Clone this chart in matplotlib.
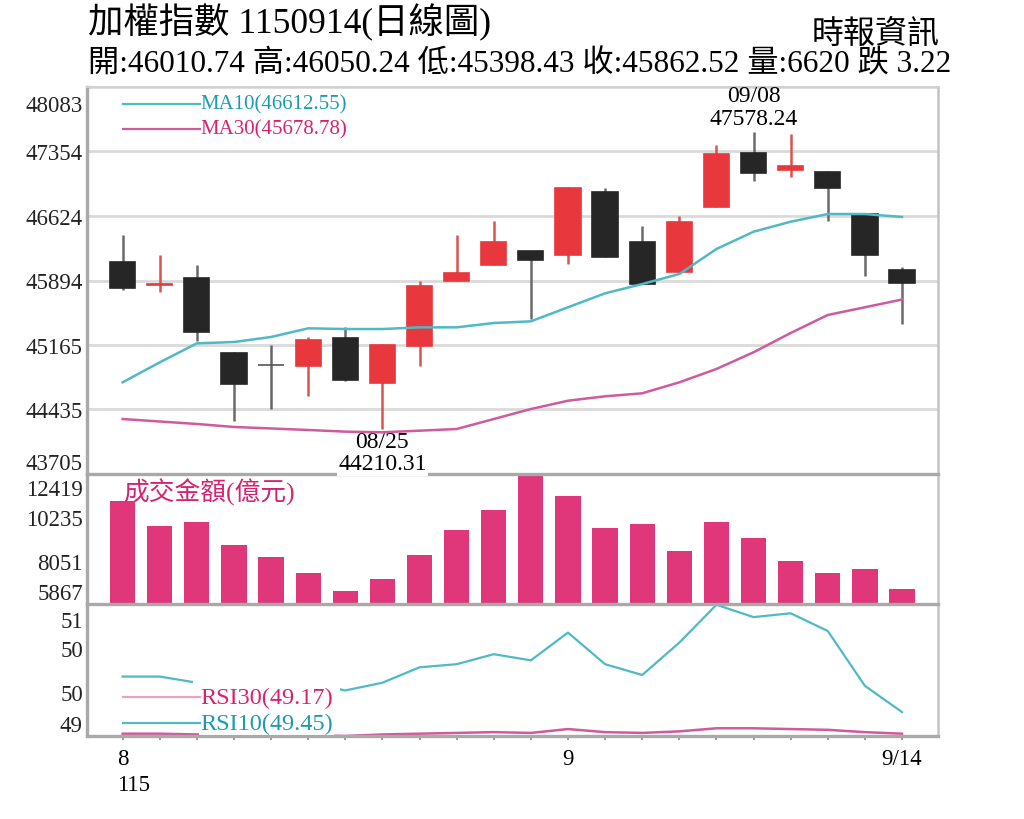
import matplotlib
matplotlib.use('Agg')
import matplotlib.pyplot as plt
import matplotlib.transforms as mtransforms
import numpy as np

plt.rcParams['font.family'] = ['Liberation Serif', 'Noto Sans CJK TC', 'DejaVu Sans']

# ---- data (22 trading days, 8/14 .. 9/14) ----
opens = [46103, 45843, 45922, 45074, 44941, 44923, 45240, 44731, 45156, 45892, 46073,
         46224, 46182, 46898, 46326, 45993, 46729, 47336, 47140, 47125, 46646, 46010.74]
closes = [45809, 45854, 45308, 44723, 44941, 45224, 44768, 45164, 45835, 45979, 46333,
          46126, 46944, 46163, 45854, 46552, 47325, 47110, 47186, 46944, 46186, 45862.52]
highs = [46408, 46186, 46069, 45080, 45168, 45251, 45364, 45170, 45885, 46408, 46570,
         46230, 46955, 46944, 46514, 46627, 47430, 47578.24, 47551, 47130, 46650, 46050.24]
lows = [45789, 45760, 45213, 44301, 44440, 44584, 44760, 44210.31, 44923, 45890, 46070,
        45458, 46080, 46160, 45850, 45990, 46729, 47023, 47061, 46570, 45941, 45398.43]

ma10 = [44742, 44968, 45183, 45198, 45255, 45353, 45345, 45345, 45364, 45364, 45413,
        45432, 45591, 45749, 45854, 45967, 46250, 46446, 46559, 46646, 46646, 46612.55]
ma30 = [44327, 44299, 44271, 44237, 44220, 44203, 44184, 44177, 44195, 44214, 44327,
        44440, 44534, 44584, 44618, 44742, 44893, 45082, 45300, 45504, 45591, 45678.78]

volume = [11048, 9808, 9975, 8851, 8211, 7419, 6512, 7152, 8327, 9587, 10595,
          12419, 11320, 9707, 9889, 8528, 9975, 9203, 8024, 7440, 7606, 6620]

rsi10 = [49.91, 49.91, 49.83, 49.79, 49.80, 49.83, 49.73, 49.83, 50.03, 50.07, 50.20,
         50.12, 50.48, 50.07, 49.93, 50.35, 50.84, 50.68, 50.73, 50.50, 49.79, 49.45]
rsi30 = [49.17, 49.17, 49.16, 49.16, 49.15, 49.15, 49.14, 49.16, 49.17, 49.18, 49.19,
         49.18, 49.23, 49.19, 49.18, 49.20, 49.24, 49.24, 49.23, 49.22, 49.19, 49.17]

price_ticks = [43705, 44435, 45165, 45894, 46624, 47354, 48083]
vol_ticks = [5867, 8051, 10235, 12419]
rsi_range = (49.14, 50.85)

xlabels = {0: '8', 12: '9', 21: '9/14'}

title = '加權指數 1150914(日線圖)'
source = '時報資訊'
summary = '開:46010.74 高:46050.24 低:45398.43 收:45862.52 量:6620 跌 3.22'

# ---- colours ----
RED = '#e8383d'
BLACK = '#262626'
GRAY = '#555555'
TEAL = '#4fb9c4'
TEAL_TXT = '#1d9ab0'
PINK = '#cf5a9c'
PINK_TXT = '#d8226f'
BAR = '#e0367a'
SPINE = '#a9a9a9'

fig = plt.figure(figsize=(10.24, 8.2), dpi=100)
W, H = 1024, 820
L, R = 87 / W, 938 / W
ax_p = fig.add_axes([L, 1 - 475 / H, R - L, (475 - 88) / H])
ax_v = fig.add_axes([L, 1 - 605 / H, R - L, (605 - 475) / H])
ax_r = fig.add_axes([L, 1 - 737 / H, R - L, (737 - 605) / H])
ax_p.set_zorder(3)
ax_v.set_zorder(2)
ax_r.set_zorder(1)
for a in (ax_p, ax_v, ax_r):
    a.patch.set_alpha(0)

x = np.arange(len(opens))
o, c, h, l = map(np.array, (opens, closes, highs, lows))
body_col = np.where(c > o, RED, np.where(c < o, BLACK, GRAY))
wick_col = np.where(c > o, '#d9534f', np.where(c < o, '#6a6a6a', '#666666'))

# ---- price panel ----
ax_p.vlines(x, l, h, colors=wick_col, lw=1.8, zorder=2)
ax_p.bar(x, np.abs(c - o), bottom=np.minimum(o, c), width=0.68,
         color=body_col, edgecolor=body_col, lw=1.2, zorder=3)
ax_p.plot(x, ma10, color=TEAL, lw=1.8, zorder=5)
ax_p.plot(x, ma30, color=PINK, lw=1.8, zorder=5)

ax_p.set_ylim(price_ticks[0], price_ticks[-1])
ax_p.set_yticks(price_ticks)
ax_p.set_yticklabels([str(t) for t in price_ticks])
ax_p.grid(axis='y', color='#dadada', lw=2)
ax_p.set_axisbelow(True)

lt = ax_p.transAxes
ax_p.plot([0.042, 0.133], [0.956, 0.956], color=TEAL, lw=1.6, transform=lt)
ax_p.plot([0.042, 0.133], [0.891, 0.891], color=PINK, lw=1.6, transform=lt)
ax_p.text(0.133, 0.956, 'MA10(%.2f)' % ma10[-1], color=TEAL_TXT, fontsize=15,
          va='center', ha='left', transform=lt)
ax_p.text(0.133, 0.891, 'MA30(%.2f)' % ma30[-1], color=PINK_TXT, fontsize=15,
          va='center', ha='left', transform=lt)

hi = int(np.argmax(h))
lo = int(np.argmin(l))
ax_p.annotate('%s\n%.2f' % ('09/08', h[hi]), (hi, h[hi]), xytext=(0, 2),
              textcoords='offset points', ha='center', va='bottom', fontsize=17,
              linespacing=1.1, zorder=6)
ax_p.annotate('%s\n%.2f' % ('08/25', l[lo]), (lo, l[lo]), xytext=(0, -1),
              textcoords='offset points', ha='center', va='top', fontsize=17,
              linespacing=1.1, zorder=4, annotation_clip=False,
              bbox=dict(boxstyle='square,pad=0.05', fc='white', ec='none'))

# ---- volume panel ----
ax_v.bar(x, np.array(volume) - vol_ticks[0], bottom=vol_ticks[0], width=0.68,
         color=BAR, zorder=2)
ax_v.set_ylim(vol_ticks[0], vol_ticks[-1])
ax_v.set_yticks(vol_ticks)
ax_v.set_yticklabels([str(t) for t in vol_ticks])
ax_v.text(0.042, 0.87, '成交金額(億元)', color=PINK_TXT, fontsize=18.5,
          va='center', ha='left', transform=ax_v.transAxes)

# ---- RSI panel ----
ax_r.plot(x, rsi10, color=TEAL, lw=1.6, zorder=2, clip_on=False)
ax_r.plot(x, rsi30, color=PINK, lw=1.8, zorder=2, clip_on=False)
ax_r.set_ylim(*rsi_range)
rt = np.linspace(rsi_range[0], rsi_range[1], 4)
ax_r.set_yticks(rt)
ax_r.set_yticklabels(['%.0f' % t for t in rt])
ax_r.plot([0.042, 0.133], [0.295, 0.295], color='#e5a3c6', lw=1.6, transform=ax_r.transAxes, zorder=5)
ax_r.plot([0.042, 0.133], [0.096, 0.096], color=TEAL, lw=1.6, transform=ax_r.transAxes, zorder=5)
ax_r.text(0.133, 0.295, 'RSI30(%.2f)' % rsi30[-1], color=PINK_TXT, fontsize=17.5,
          va='center', ha='left', transform=ax_r.transAxes, zorder=4,
          bbox=dict(boxstyle='square,pad=0.3', fc='white', ec='none'))
ax_r.text(0.133, 0.096, 'RSI10(%.2f)' % rsi10[-1], color=TEAL_TXT, fontsize=17.5,
          va='center', ha='left', transform=ax_r.transAxes, zorder=4,
          bbox=dict(boxstyle='square,pad=0.05', fc='white', ec='none'))

# ---- axes styling ----
for a in (ax_p, ax_v, ax_r):
    a.set_xlim(-0.96, len(x) - 1 + 0.97)
    a.tick_params(axis='y', length=0, pad=3, labelsize=16.5, colors='#222222')
    for s in a.spines.values():
        s.set_color(SPINE)
    a.spines['left'].set_linewidth(2.4)
    a.spines['right'].set_linewidth(1.8)
    a.spines['right'].set_color('#c4c4c4')
    a.spines['top'].set_visible(False)
    a.spines['bottom'].set_linewidth(2.4)
ax_p.spines['top'].set_visible(True)
ax_p.spines['top'].set_color('#d0d0d0')
ax_p.spines['top'].set_linewidth(1.5)

for a in (ax_p, ax_v):
    a.set_xticks([])

ax_r.set_xticks(x)
ax_r.set_xticklabels([xlabels.get(i, '') for i in x])
ax_r.tick_params(axis='x', length=3, width=1.2, color='#888888', labelsize=16.5, pad=6)
ax_r.text(-0.15, -0.29, '115', fontsize=16.5, ha='left', va='top',
          transform=mtransforms.blended_transform_factory(ax_r.transData, ax_r.transAxes))

# edge tick labels sit inside the panel
for a, shift in ((ax_p, 8), (ax_v, 5), (ax_r, 7)):
    labs = a.get_yticklabels()
    labs[0].set_va('bottom')
    labs[-1].set_va('top')
    labs[-1].set_transform(labs[-1].get_transform() +
                           mtransforms.ScaledTranslation(0, -shift / 100, fig.dpi_scale_trans))

# ---- header ----
fig.text(88 / W, 1 - 23 / H, title, fontsize=25.5, ha='left', va='center')
fig.text(940 / W, 1 - 35 / H, source, fontsize=23, ha='right', va='center')
fig.text(88 / W, 1 - 65 / H, summary, fontsize=22.5, ha='left', va='center')

fig.savefig('out.png', dpi=100, facecolor='white')
